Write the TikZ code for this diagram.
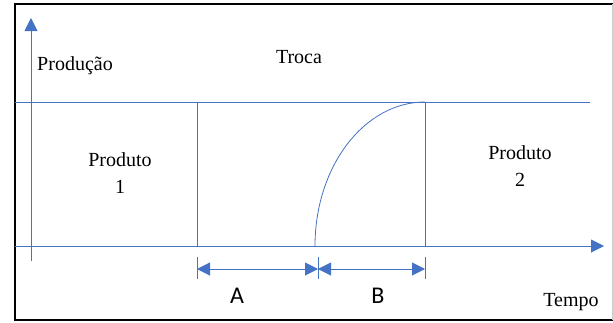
\documentclass[tikz,border=0pt]{standalone}
\usepackage{fontspec}
\setmainfont{Liberation Serif}
\newfontfamily\calib{Carlito}
\usetikzlibrary{arrows.meta}
\definecolor{ofblue}{RGB}{68,114,196}
\tikzset{
  bl/.style={draw=ofblue, line width=1pt},
  lbl/.style={inner sep=0pt, font=\fontsize{20}{27}\selectfont, align=center, text=black},
  dimlbl/.style={inner sep=0pt, font=\calib\fontsize{24}{28}\selectfont, text=black},
  tipA/.style={-{Triangle[length=13pt,width=13pt]}},
  dimarr/.style={{Triangle[length=13pt,width=13pt]}-{Triangle[length=13pt,width=13pt]}}
}
\begin{document}
\begin{tikzpicture}[x=1pt,y=-1pt]
\useasboundingbox (0,0) rectangle (613,322);
% frame
\draw[black, line width=2pt] (613,4) -- (15,4) -- (15,320) -- (613,320);
\draw[gray!40, line width=1pt] (612,4) -- (612,320);
% coordinates
\coordinate (ybot) at (31,261);
\coordinate (ytop) at (31,18);
\coordinate (xl) at (15,246);
\coordinate (xr) at (604,246);
\coordinate (tl) at (15,102);
\coordinate (tr) at (590,102);
\coordinate (v1t) at (197,102);
\coordinate (v1b) at (197,246);
\coordinate (v2t) at (425,102);
\coordinate (v2b) at (425,246);
\coordinate (cs) at (315,246);
\coordinate (t1a) at (197,257);
\coordinate (t1b) at (197,279);
\coordinate (t2a) at (318,257);
\coordinate (t2b) at (318,279);
\coordinate (t3a) at (425,257);
\coordinate (t3b) at (425,279);
\coordinate (da) at (197,269);
\coordinate (db) at (318,269);
\coordinate (dc) at (425,269);
% axes
\draw[bl, tipA] (ybot) -- (ytop);
\draw[bl, tipA] (xl) -- (xr);
% lines
\draw[bl] (tl) -- (tr);
\draw[bl] (v1t) -- (v1b);
\draw[bl] (v2t) -- (v2b);
\draw[bl, line width=0.8pt] (cs) arc[start angle=180, end angle=270, x radius=110, y radius=144];
% dimension ticks
\draw[bl, line width=0.7pt] (t1a) -- (t1b);
\draw[bl, line width=0.7pt] (t2a) -- (t2b);
\draw[bl, line width=0.7pt] (t3a) -- (t3b);
\draw[bl, dimarr] (da) -- (db);
\draw[bl, dimarr] (db) -- (dc);
% labels
\node[lbl, anchor=base] (prod) at (75,70) {Produção};
\node[lbl, anchor=base] (troca) at (299,63) {Troca};
\node[lbl, anchor=base] (p1) at (120,193) {Produto\\1};
\node[lbl, anchor=base] (p2) at (520,186) {Produto\\2};
\node[lbl, anchor=base] (tempo) at (571,306) {Tempo};
\node[dimlbl] (A) at (237,296) {A};
\node[dimlbl] (B) at (378,296) {B};
\end{tikzpicture}
\end{document}
